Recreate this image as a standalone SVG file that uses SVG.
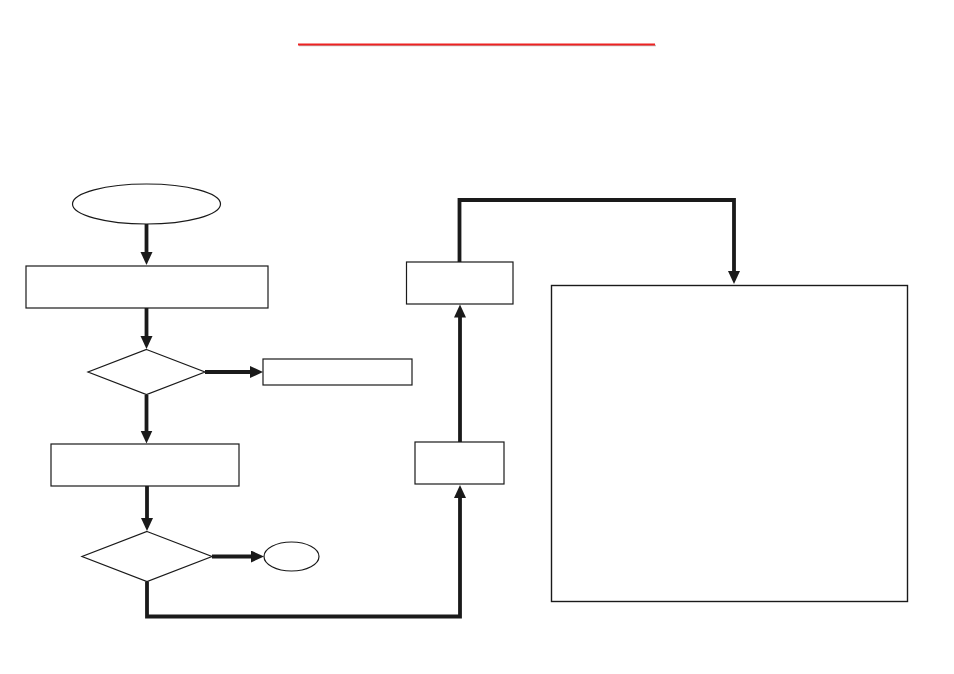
<svg xmlns="http://www.w3.org/2000/svg" width="954" height="674" viewBox="0 0 954 674">
<style>
.shape{fill:#fff;stroke:#1a1a1a;stroke-width:1.2}
.conn{fill:none;stroke:#1a1a1a;stroke-width:3.8;stroke-linejoin:miter}
</style>
<defs>
<marker id="ah" markerUnits="userSpaceOnUse" markerWidth="14" markerHeight="13" refX="7" refY="6" orient="auto">
<path d="M0,0 L13,6 L0,12 z" fill="#1a1a1a"/>
</marker>
</defs>
<rect width="954" height="674" fill="#fff"/>
<g id="title-line">
<line x1="299" y1="45.6" x2="656" y2="45.6" stroke="#bbb" stroke-width="1.5"/>
<line x1="298" y1="44.5" x2="655" y2="44.5" stroke="#ee2222" stroke-width="2.2"/>
</g>
<g id="start"><ellipse class="shape" cx="146.5" cy="204" rx="74" ry="20"/></g>
<g id="box1"><rect class="shape" x="26" y="266" width="242" height="42"/></g>
<g id="decision1"><polygon class="shape" points="146.5,349.5 205,372 146.5,394.5 88,372"/></g>
<g id="box2"><rect class="shape" x="263" y="359" width="149" height="26"/></g>
<g id="box3"><rect class="shape" x="51" y="444" width="188" height="42"/></g>
<g id="decision2"><polygon class="shape" points="147,531.5 212,556.5 147,581.5 82,556.5"/></g>
<g id="end"><ellipse class="shape" cx="291.5" cy="556.5" rx="27.5" ry="14.5"/></g>
<g id="box4"><rect class="shape" x="415" y="442" width="89" height="42"/></g>
<g id="box5"><rect class="shape" x="406.5" y="262" width="106.5" height="42"/></g>
<g id="box6"><rect class="shape" x="551.5" y="285.5" width="356" height="316" style="stroke-width:1.4"/></g>
<g id="connectors">
<line class="conn" x1="146.5" y1="224" x2="146.5" y2="259" marker-end="url(#ah)"/>
<line class="conn" x1="146.5" y1="308" x2="146.5" y2="343" marker-end="url(#ah)"/>
<line class="conn" x1="205" y1="372" x2="257" y2="372" marker-end="url(#ah)"/>
<line class="conn" x1="146.5" y1="395" x2="146.5" y2="437.5" marker-end="url(#ah)"/>
<line class="conn" x1="147" y1="486" x2="147" y2="525" marker-end="url(#ah)"/>
<line class="conn" x1="212" y1="556.5" x2="258" y2="556.5" marker-end="url(#ah)"/>
<polyline class="conn" points="147,581.5 147,616.5 460,616.5 460,491" marker-end="url(#ah)"/>
<line class="conn" x1="460" y1="442" x2="460" y2="310.5" marker-end="url(#ah)"/>
<polyline class="conn" points="459.5,262 459.5,200 734,200 734,278" marker-end="url(#ah)"/>
</g>
</svg>
